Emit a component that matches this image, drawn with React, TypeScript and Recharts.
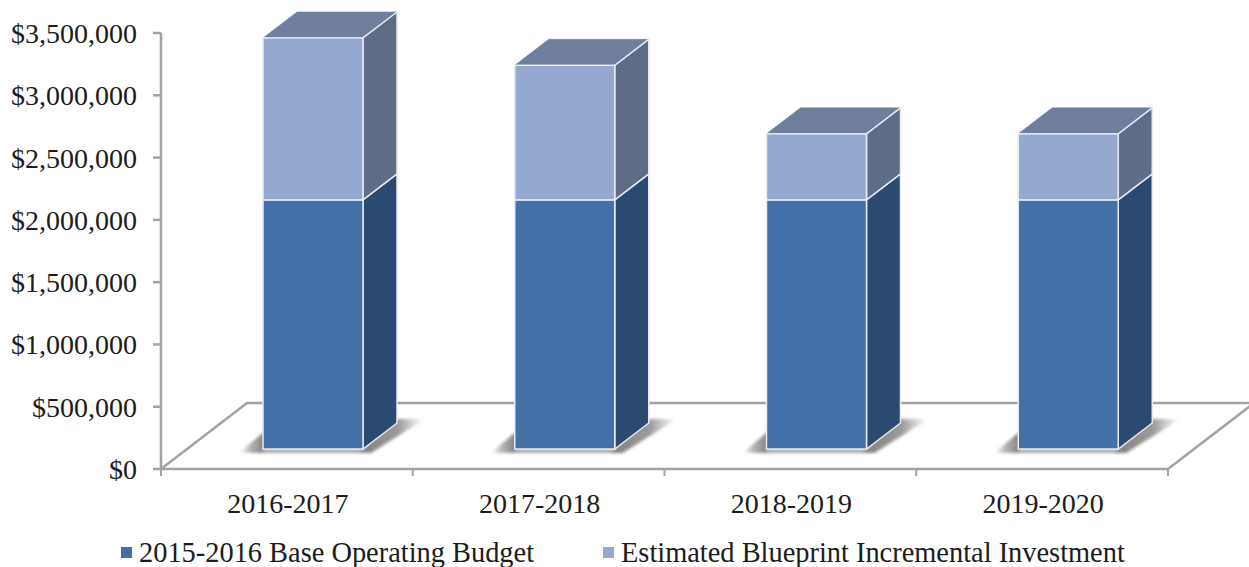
import { Bar, BarChart, Legend, ReferenceArea, XAxis, YAxis } from "recharts";

const years = ["2016-2017", "2017-2018", "2018-2019", "2019-2020"];
const baseBudget = [2000000, 2000000, 2000000, 2000000];
const blueprintInvestment = [1300000, 1080000, 530000, 530000];
const valueTicks = [0, 500000, 1000000, 1500000, 2000000, 2500000, 3000000, 3500000];
const baseLabel = "2015-2016 Base Operating Budget";
const blueprintLabel = "Estimated Blueprint Incremental Investment";

const data = years.map((year, i) => ({
  year,
  base: baseBudget[i],
  blueprint: blueprintInvestment[i],
}));

const WIDTH = 1249;
const HEIGHT = 567;
const FONT = "'Liberation Serif', 'Times New Roman', serif";
const AXIS_COLOR = "#a3a3a3";
const TEXT_COLOR = "#1c1c1c";
const EDGE = "#e6ecf5";

// how far the bars sit in front of the axis plane, and the depth of the box
const SHIFT_X = 26;
const SHIFT_Y = -20;
const DEPTH_X = 34;
const DEPTH_Y = -26;
const BAND = (1168 - 161) / years.length;

const currency = (v: number) => `$${v.toLocaleString("en-US")}`;

function Box3D(props: any) {
  const { x, y, width, height, front, side, withShadow } = props;
  const left = x + SHIFT_X;
  const right = left + width;
  const top = y + SHIFT_Y;
  const bottom = top + height;
  const poly = (pts: number[][]) => pts.map((p) => p.join(",")).join(" ");

  return (
    <g>
      {withShadow && (
        <g filter="url(#shadowBlur)">
          <polygon
            points={poly([
              [left - 24, bottom + 4],
              [left + 2, bottom - 18],
              [left + 2, bottom + 4],
            ])}
            fill="url(#shadowLeft)"
          />
          <rect x={left} y={bottom} width={width} height={4} fill="#a8a8a8" />
          <polygon
            points={poly([
              [right - 4, bottom + 4],
              [right + 8, bottom + 4],
              [right + 62, bottom - 30],
              [right + DEPTH_X - 4, bottom - 30],
            ])}
            fill="url(#shadowRight)"
          />
        </g>
      )}
      <polygon
        points={poly([
          [left, top],
          [left + DEPTH_X, top + DEPTH_Y],
          [right + DEPTH_X, top + DEPTH_Y],
          [right, top],
        ])}
        fill="#6f7e9c"
        stroke="#6f7e9c"
        strokeWidth={0.5}
      />
      <polygon
        points={poly([
          [right, top],
          [right + DEPTH_X, top + DEPTH_Y],
          [right + DEPTH_X, bottom + DEPTH_Y],
          [right, bottom],
        ])}
        fill={side}
        stroke={EDGE}
        strokeWidth={1.5}
      />
      <rect x={left} y={top} width={width} height={height} fill={front} stroke={EDGE} strokeWidth={1.5} />
    </g>
  );
}

function Floor(props: any) {
  const { x, y, width, height } = props;
  const bottom = y + height;
  const right = x + width;
  return (
    <polyline
      points={`${x},${bottom} ${x + 86},${bottom - 66} ${right + 86},${bottom - 66} ${right},${bottom}`}
      fill="#ffffff"
      stroke={AXIS_COLOR}
      strokeWidth={2.5}
    />
  );
}

function YearTick(props: any) {
  const { x, y, payload, index } = props;
  const isLast = index === years.length - 1;
  return (
    <g>
      <line x1={x - BAND / 2} x2={x - BAND / 2} y1={y - 8} y2={y - 1} stroke={AXIS_COLOR} strokeWidth={2} />
      {isLast && (
        <line x1={x + BAND / 2} x2={x + BAND / 2} y1={y - 8} y2={y - 1} stroke={AXIS_COLOR} strokeWidth={2} />
      )}
      <text x={x + 1} y={y + 36} textAnchor="middle" fontFamily={FONT} fontSize={28} fill={TEXT_COLOR}>
        {payload.value}
      </text>
    </g>
  );
}

function BottomLegend({ payload }: any) {
  const lefts = [121, 603];
  return (
    <div style={{ position: "relative", height: 30, fontFamily: FONT, fontSize: 28.4, color: TEXT_COLOR }}>
      {(payload ?? []).map((item: any, i: number) => (
        <div key={item.value}>
          <span
            style={{
              position: "absolute",
              left: lefts[i],
              top: 10,
              width: 11,
              height: 11,
              background: item.color,
            }}
          />
          <span style={{ position: "absolute", left: lefts[i] + 18, top: 0, whiteSpace: "nowrap" }}>{item.value}</span>
        </div>
      ))}
    </div>
  );
}

export default function App() {
  return (
    <div style={{ position: "absolute", left: 0, top: 0, width: WIDTH, height: HEIGHT, background: "#ffffff" }}>
      <BarChart
        width={WIDTH}
        height={HEIGHT}
        data={data}
        margin={{ top: 33, right: 81, bottom: 0, left: 0 }}
        barSize={100}
      >
        <defs>
          <filter id="shadowBlur" x="-30%" y="-30%" width="160%" height="160%">
            <feGaussianBlur stdDeviation="1.5" />
          </filter>
          <linearGradient id="shadowLeft" x1="0" x2="1" y1="0" y2="0">
            <stop offset="0%" stopColor="#8a8a8a" stopOpacity={0} />
            <stop offset="45%" stopColor="#8a8a8a" stopOpacity={0.65} />
            <stop offset="100%" stopColor="#7d7d7d" stopOpacity={1} />
          </linearGradient>
          <linearGradient id="shadowRight" x1="0" x2="1" y1="0" y2="0">
            <stop offset="0%" stopColor="#808080" stopOpacity={1} />
            <stop offset="60%" stopColor="#8a8a8a" stopOpacity={0.85} />
            <stop offset="100%" stopColor="#a0a0a0" stopOpacity={0} />
          </linearGradient>
        </defs>
        <ReferenceArea y1={0} y2={500000} shape={<Floor />} ifOverflow="visible" />
        <XAxis
          dataKey="year"
          height={68}
          interval={0}
          tickLine={false}
          stroke={AXIS_COLOR}
          strokeWidth={2.5}
          tick={<YearTick />}
        />
        <YAxis
          width={161}
          domain={[0, 3500000]}
          ticks={valueTicks}
          tickFormatter={currency}
          interval={0}
          stroke={AXIS_COLOR}
          strokeWidth={2.5}
          tickSize={8}
          tickMargin={16}
          tick={{ fontFamily: FONT, fontSize: 28, fill: TEXT_COLOR }}
        />
        <Legend
          verticalAlign="bottom"
          align="left"
          wrapperStyle={{ left: 0, bottom: 0, width: WIDTH }}
          content={<BottomLegend />}
        />
        <Bar
          dataKey="base"
          name={baseLabel}
          stackId="budget"
          fill="#4370a6"
          isAnimationActive={false}
          shape={<Box3D front="#4370a6" side="#2b4a70" withShadow />}
        />
        <Bar
          dataKey="blueprint"
          name={blueprintLabel}
          stackId="budget"
          fill="#95a8d0"
          isAnimationActive={false}
          shape={<Box3D front="#95a8d0" side="#5e6c85" />}
        />
      </BarChart>
    </div>
  );
}
